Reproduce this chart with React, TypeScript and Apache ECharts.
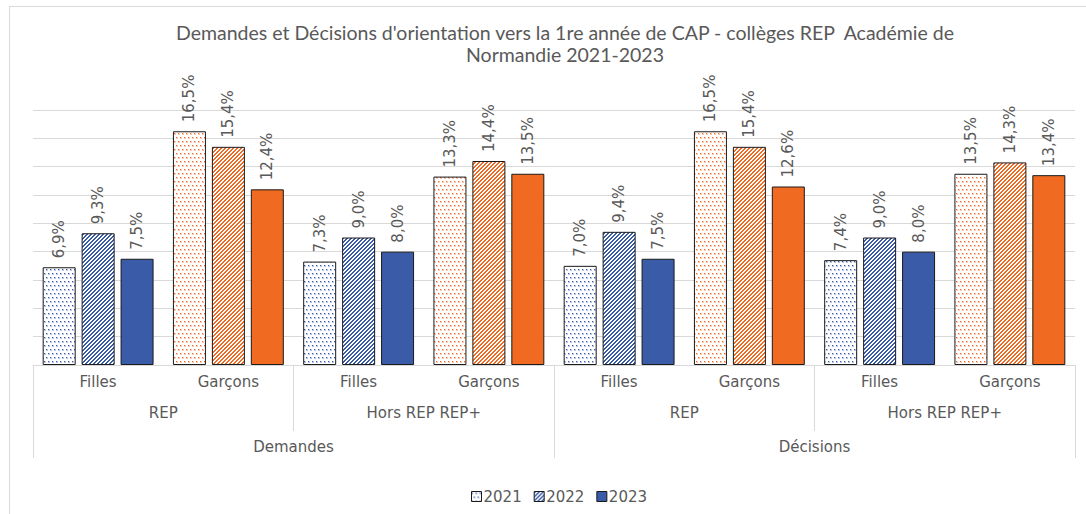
import React, { useEffect, useRef } from "react";
import * as echarts from "echarts";

const categories = ["Filles", "Garçons", "Filles", "Garçons", "Filles", "Garçons", "Filles", "Garçons"];
const level2 = ["REP", "Hors REP REP+", "REP", "Hors REP REP+"];
const level3 = ["Demandes", "Décisions"];
const years = ["2021", "2022", "2023"];
const values2021 = [6.9, 16.5, 7.3, 13.3, 7.0, 16.5, 7.4, 13.5];
const values2022 = [9.3, 15.4, 9.0, 14.4, 9.4, 15.4, 9.0, 14.3];
const values2023 = [7.5, 12.4, 8.0, 13.5, 7.5, 12.6, 8.0, 13.4];
const titleText =
  "Demandes et Décisions d'orientation vers la 1re année de CAP - collèges REP  Académie de\nNormandie 2021-2023";

const BLUE = "#3A5BA8";
const ORANGE = "#F06A22";
const GRAY = "#595959";
const LIGHT = "#D9D9D9";
const LABEL_FONT = "DejaVu Sans";
const LABEL_SIZE = 15;

function hexToRgba(hex: string, a: number) {
  const r = parseInt(hex.slice(1, 3), 16);
  const g = parseInt(hex.slice(3, 5), 16);
  const b = parseInt(hex.slice(5, 7), 16);
  return `rgba(${r},${g},${b},${a})`;
}

function dotPattern(color: string) {
  const c = document.createElement("canvas");
  c.width = 4;
  c.height = 8;
  const g = c.getContext("2d")!;
  g.fillStyle = "#ffffff";
  g.fillRect(0, 0, 4, 8);
  const dot = (x: number, y: number) => {
    g.fillStyle = hexToRgba(color, 0.35);
    g.fillRect(x, y, 2, 2);
    g.fillStyle = color;
    g.fillRect(x, y, 1, 1);
  };
  dot(0, 1);
  dot(2, 5);
  return { image: c, repeat: "repeat" };
}

function stripePattern(color: string) {
  const c = document.createElement("canvas");
  c.width = 4;
  c.height = 4;
  const g = c.getContext("2d")!;
  g.fillStyle = "#ffffff";
  g.fillRect(0, 0, 4, 4);
  for (let x = 0; x < 4; x++) {
    for (let y = 0; y < 4; y++) {
      const k = (x + y) % 4;
      if (k < 2) {
        g.fillStyle = color;
        g.fillRect(x, y, 1, 1);
      }
    }
  }
  return { image: c, repeat: "repeat" };
}

export default function App() {
  const ref = useRef<HTMLDivElement>(null);
  useEffect(() => {
    if (!ref.current) return;
    const chart = echarts.init(ref.current, undefined, { renderer: "svg" });

    const styles = [
      [dotPattern(BLUE), dotPattern(ORANGE)],
      [stripePattern(BLUE), stripePattern(ORANGE)],
      [BLUE, ORANGE],
    ];
    const allValues = [values2021, values2022, values2023];

    const fmt = (p: any) => Number(p.value).toFixed(1).replace(".", ",") + "%";

    const series = years.map((y, si) => ({
      name: y,
      type: "bar",
      xAxisIndex: 0,
      yAxisIndex: 0,
      barWidth: 33,
      barGap: "18%",
      itemStyle: { color: styles[si][0] as any, borderColor: "#1a1a1a", borderWidth: 1 },
      label: {
        show: true,
        position: "top",
        rotate: 90,
        align: "left",
        verticalAlign: "middle",
        distance: 9,
        color: GRAY,
        fontSize: LABEL_SIZE,
        fontFamily: LABEL_FONT,
        formatter: fmt,
      },
      data: allValues[si].map((v, i) => ({
        value: v,
        itemStyle: { color: styles[si][i % 2] as any, borderColor: "#1a1a1a", borderWidth: 1 },
      })),
    }));

    chart.setOption({
      animation: false,
      backgroundColor: "#ffffff",
      grid: { left: 33, right: 11, top: 110, bottom: 149, containLabel: false },
      graphic: [
        {
          type: "line",
          shape: { x1: 9.5, y1: 6, x2: 9.5, y2: 514 },
          style: { stroke: LIGHT, lineWidth: 1 },
          silent: true,
        },
        {
          type: "line",
          shape: { x1: 9, y1: 6.5, x2: 1086, y2: 6.5 },
          style: { stroke: LIGHT, lineWidth: 1 },
          silent: true,
        },
        {
          type: "text",
          x: 565,
          y: 21,
          style: {
            text: titleText,
            textAlign: "center",
            textVerticalAlign: "top",
            fill: GRAY,
            fontSize: 19.5,
            lineHeight: 22,
            fontFamily: "Lato",
          },
          silent: true,
        },
      ],
      legend: {
        data: years,
        left: 466,
        top: 484,
        itemWidth: 10,
        itemHeight: 10,
        itemGap: 12,
        icon: "rect",
        itemStyle: { borderColor: "#1a1a1a", borderWidth: 1 },
        textStyle: { color: GRAY, fontSize: LABEL_SIZE, fontFamily: LABEL_FONT, padding: [0, 0, 0, -3] },
      },
      xAxis: [
        {
          type: "category",
          data: categories,
          position: "bottom",
          axisLine: { show: true, lineStyle: { color: LIGHT, width: 1 } },
          axisTick: { show: false },
          axisLabel: { margin: 9, color: GRAY, fontSize: LABEL_SIZE, fontFamily: LABEL_FONT, interval: 0 },
        },
        {
          type: "category",
          data: level2,
          position: "bottom",
          axisLine: { show: false },
          axisTick: { show: true, length: 66, interval: 0, lineStyle: { color: LIGHT, width: 1 } },
          axisLabel: { margin: 40, color: GRAY, fontSize: LABEL_SIZE, fontFamily: LABEL_FONT, interval: 0 },
          splitLine: { show: false },
        },
        {
          type: "category",
          data: level3,
          position: "bottom",
          axisLine: { show: false },
          axisTick: { show: true, length: 93, interval: 0, lineStyle: { color: LIGHT, width: 1 } },
          axisLabel: { margin: 74, color: GRAY, fontSize: LABEL_SIZE, fontFamily: LABEL_FONT, interval: 0 },
          splitLine: { show: false },
        },
      ],
      yAxis: {
        type: "value",
        min: 0,
        max: 18,
        interval: 2,
        axisLabel: { show: false },
        axisLine: { show: false },
        axisTick: { show: false },
        splitLine: { show: true, lineStyle: { color: LIGHT, width: 1 } },
      },
      series,
    } as any);

    return () => chart.dispose();
  }, []);

  return (
    <div
      ref={ref}
      style={{ position: "absolute", left: 0, top: 0, width: 1086, height: 514 }}
    />
  );
}
